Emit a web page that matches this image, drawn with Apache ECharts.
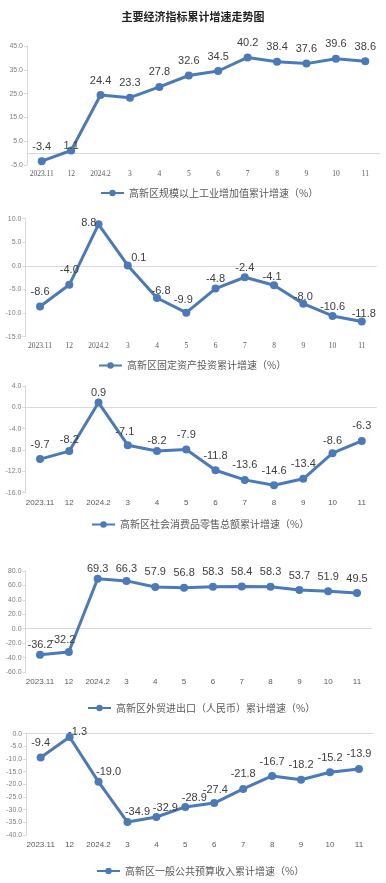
<!DOCTYPE html>
<html>
<head>
<meta charset="utf-8">
<script src="https://cdn.jsdelivr.net/npm/echarts@6/dist/echarts.min.js"></script>
<style>
html,body{margin:0;padding:0;background:#fff;}
#c{width:386px;height:883px;}
</style>
</head>
<body>
<div id="c"></div>
<script>
var categories = ['2023.11','12','2024.2','3','4','5','6','7','8','9','10','11'];

var industryName = '高新区规模以上工业增加值累计增速（%）';
var industryValues = [-3.4, 1.1, 24.4, 23.3, 27.8, 32.6, 34.5, 40.2, 38.4, 37.6, 39.6, 38.6];

var investName = '高新区固定资产投资累计增速（%）';
var investValues = [-8.6, -4.0, 8.8, 0.1, -6.8, -9.9, -4.8, -2.4, -4.1, -8.0, -10.6, -11.8];

var retailName = '高新区社会消费品零售总额累计增速（%）';
var retailValues = [-9.7, -8.2, 0.9, -7.1, -8.2, -7.9, -11.8, -13.6, -14.6, -13.4, -8.6, -6.3];

var tradeName = '高新区外贸进出口（人民币）累计增速（%）';
var tradeValues = [-36.2, -32.2, 69.3, 66.3, 57.9, 56.8, 58.3, 58.4, 58.3, 53.7, 51.9, 49.5];

var budgetName = '高新区一般公共预算收入累计增速（%）';
var budgetValues = [-9.4, -1.3, -19.0, -34.9, -32.9, -28.9, -27.4, -21.8, -16.7, -18.2, -15.2, -13.9];

var yMin = [-5, -15, -16, -60, -40];
var yMax = [45, 10, 4, 80, 0];
var yStep = [10, 5, 4, 20, 5];

var names = [industryName, investName, retailName, tradeName, budgetName];
var values = [industryValues, investValues, retailValues, tradeValues, budgetValues];

// layout (styles, not data)
var grids = [
  {left: 27, width: 353, top: 46, height: 119},
  {left: 25.4, width: 351, top: 218.7, height: 118},
  {left: 25.4, width: 351, top: 386, height: 106.7},
  {left: 25.6, width: 345.8, top: 571, height: 101},
  {left: 26.2, width: 347.2, top: 733.7, height: 101.3}
];
var legendPos = [
  {left: 95, top: 183},
  {left: 93, top: 355.5},
  {left: 86, top: 514.5},
  {left: 82, top: 698},
  {left: 91, top: 861}
];
var xLabelStyle = [
  {fontFamily: 'Liberation Serif', fontSize: 7.5, margin: 5},
  {fontFamily: 'Liberation Serif', fontSize: 7.5, margin: 5},
  {fontFamily: 'Liberation Sans', fontSize: 8, margin: 6},
  {fontFamily: 'Liberation Sans', fontSize: 8, margin: 6},
  {fontFamily: 'Liberation Sans', fontSize: 8, margin: 6}
];
var labelTweaks = [
  {1: [0, 9.5]},
  {2: [-9.7, 13], 3: [11, 7], 4: [4, 7], 5: [-3, 2], 6: [0, 4.5], 7: [0, 5], 8: [-2, 6.5], 9: [0, 8], 10: [0, 6], 11: [2, 7]},
  {1: [0, 3], 2: [0, 4.5], 3: [-3, 1.5], 4: [0, 4.5], 10: [0, 2]},
  {0: [0, 5], 1: [-6, 3], 2: [0, 5], 3: [0, 3]},
  {1: [8, 9.5], 2: [10, 4.5], 3: [10, 4.5], 4: [9, 5], 5: [9, 5.5], 6: [1, 1.5]}
];

var COLOR = '#4a7ab7';
var option = {
  animation: false,
  backgroundColor: '#fff',
  title: {
    text: '主要经济指标累计增速走势图',
    left: 'center', top: 6,
    textStyle: {fontFamily: 'Noto Sans CJK SC', fontWeight: 'bold', fontSize: 11, color: '#222'}
  },
  grid: [], xAxis: [], yAxis: [], series: [], legend: []
};

for (var i = 0; i < 5; i++) {
  option.grid.push(grids[i]);
  option.xAxis.push({
    type: 'category', gridIndex: i, data: categories, boundaryGap: true,
    axisLine: {lineStyle: {color: '#d9d9d9'}},
    axisTick: {alignWithLabel: true, length: 3, lineStyle: {color: '#d9d9d9'}},
    axisLabel: {color: '#595959', fontFamily: xLabelStyle[i].fontFamily, fontSize: xLabelStyle[i].fontSize, margin: xLabelStyle[i].margin, interval: 0}
  });
  option.yAxis.push({
    type: 'value', gridIndex: i, min: yMin[i], max: yMax[i], interval: yStep[i],
    axisLine: {show: true, lineStyle: {color: '#d9d9d9'}},
    axisTick: {show: true, length: 3, lineStyle: {color: '#d9d9d9'}},
    splitLine: {show: false},
    axisLabel: {color: '#7f7f7f', fontSize: 7, fontFamily: 'Liberation Sans', margin: 4,
      formatter: function (v) { return Number(v).toFixed(1); }}
  });
  var tw = labelTweaks[i];
  var data = values[i].map(function (v, k) {
    var d = {value: v};
    if (tw[k]) d.label = {offset: tw[k]};
    return d;
  });
  option.series.push({
    name: names[i], type: 'line', xAxisIndex: i, yAxisIndex: i, data: data,
    symbol: 'circle', symbolSize: 8,
    lineStyle: {color: COLOR, width: 3},
    itemStyle: {color: COLOR},
    label: {show: true, position: 'top', distance: 5, color: '#404040', fontSize: 11,
      fontFamily: 'Liberation Sans',
      formatter: function (p) { return Number(p.value).toFixed(1); }}
  });
  option.legend.push({
    data: [names[i]], left: legendPos[i].left, top: legendPos[i].top,
    itemWidth: 23, itemHeight: 8, itemGap: 5,
    textStyle: {color: '#595959', fontSize: 10, fontFamily: 'Noto Sans CJK SC'}
  });
}

var chart = echarts.init(document.getElementById('c'), null, {renderer: 'canvas'});
chart.setOption(option);
</script>
</body>
</html>
